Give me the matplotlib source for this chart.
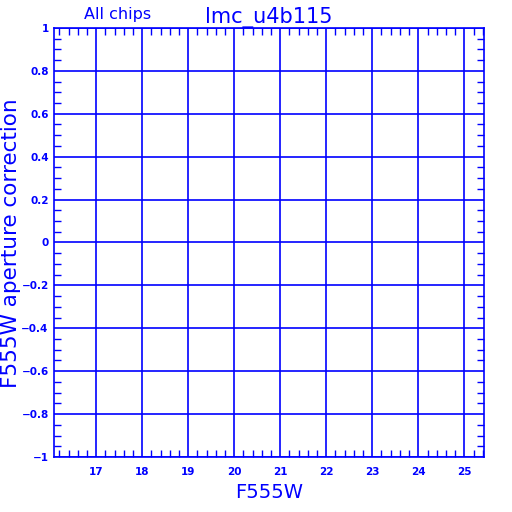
import matplotlib

matplotlib.use("Agg")

import matplotlib.pyplot as plt  # noqa: E402
from matplotlib.ticker import MultipleLocator  # noqa: E402

BLUE = "#0000ff"

x_limits = [16.09, 25.435]
y_limits = [-1.0, 1.0]
x_ticks = [17, 18, 19, 20, 21, 22, 23, 24, 25]
y_ticks = [-1, -0.8, -0.6, -0.4, -0.2, 0, 0.2, 0.4, 0.6, 0.8, 1]
y_tick_labels = ["\u22121", "\u22120.8", "\u22120.6", "\u22120.4", "\u22120.2", "0",
                 "0.2", "0.4", "0.6", "0.8", "1"]
title_left = "All chips"
title_main = "lmc_u4b115"
x_label = "F555W"
y_label = "F555W aperture correction"

fig = plt.figure(figsize=(5.12, 5.12), dpi=100)
ax = fig.add_axes([0.106, 0.1074, 0.840, 0.838])

ax.set_xlim(*x_limits)
ax.set_ylim(*y_limits)
ax.set_xticks(x_ticks)
ax.set_yticks(y_ticks)
ax.set_yticklabels(y_tick_labels)
ax.xaxis.set_minor_locator(MultipleLocator(0.2))
ax.yaxis.set_minor_locator(MultipleLocator(0.05))

ax.grid(True, which="major", color=BLUE, linewidth=1.2)
ax.tick_params(which="both", direction="in", top=True, right=True, colors=BLUE,
               labelsize=7.5, width=1)
ax.tick_params(which="major", length=0)
ax.tick_params(axis="y", which="major", pad=4)
ax.tick_params(axis="x", which="major", pad=7)
ax.tick_params(which="minor", length=5)
for lab in ax.get_xticklabels() + ax.get_yticklabels():
    lab.set_fontweight("bold")
for spine in ax.spines.values():
    spine.set_color(BLUE)
    spine.set_linewidth(1.2)

fig.text(118 / 512, 1 - 15 / 512, title_left, color=BLUE, fontsize=11.5,
         ha="center", va="center")
fig.text(269 / 512, 1 - 17 / 512, title_main, color=BLUE, fontsize=15,
         ha="center", va="center")
fig.text(269 / 512, 1 - 492 / 512, x_label, color=BLUE, fontsize=14,
         ha="center", va="center")
fig.text(11 / 512, 1 - 243 / 512, y_label, color=BLUE, fontsize=15.5,
         ha="center", va="center", rotation=90)

fig.savefig("out.png", dpi=100)
